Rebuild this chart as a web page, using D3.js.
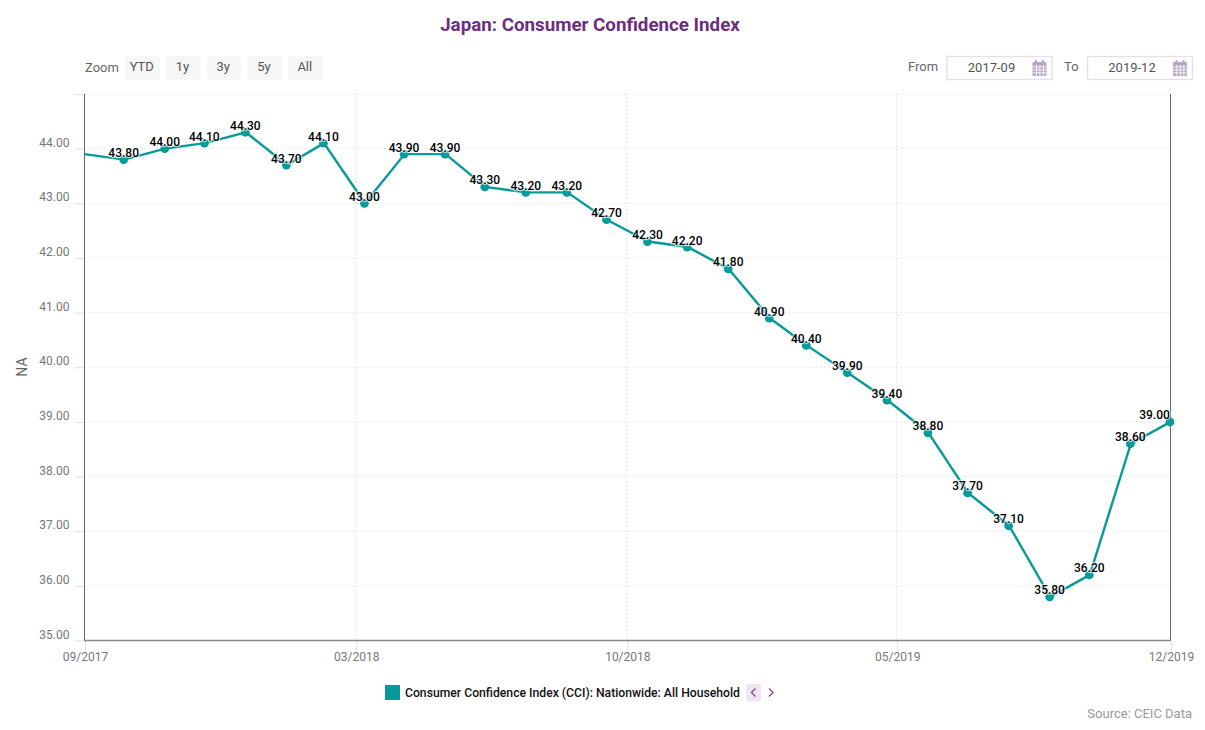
<!DOCTYPE html>
<html>
<head>
<meta charset="utf-8">
<script src="https://cdn.jsdelivr.net/npm/d3@7"></script>
<style>
  html, body { margin: 0; padding: 0; background: #fff; }
  svg { display: block; font-family: Roboto, sans-serif; }
</style>
</head>
<body>
<svg id="chart" width="1205" height="730"></svg>
<script>
const months = ["2017-09","2017-10","2017-11","2017-12","2018-01","2018-02","2018-03","2018-04","2018-05","2018-06",
  "2018-07","2018-08","2018-09","2018-10","2018-11","2018-12","2019-01","2019-02","2019-03","2019-04",
  "2019-05","2019-06","2019-07","2019-08","2019-09","2019-10","2019-11","2019-12"];
const values = [43.9,43.8,44.0,44.1,44.3,43.7,44.1,43.0,43.9,43.9,
  43.3,43.2,43.2,42.7,42.3,42.2,41.8,40.9,40.4,39.9,
  39.4,38.8,37.7,37.1,35.8,36.2,38.6,39.0];
const xTicks = ["2017-09-01","2018-03-25","2018-10-16","2019-05-08","2019-12-01"];
const yTicks = [35,36,37,38,39,40,41,42,43,44,45];
const zoomButtons = ["YTD","1y","3y","5y","All"];
const seriesName = "Consumer Confidence Index (CCI): Nationwide: All Household";

const teal = "#069a9a";
const parseMonth = d3.utcParse("%Y-%m");
const parseDay = d3.utcParse("%Y-%m-%d");
const data = months.map((m, i) => ({ date: parseMonth(m), value: values[i] }));

const svg = d3.select("#chart");
const x = d3.scaleUtc().domain([parseMonth(months[0]), parseMonth(months[months.length - 1])]).range([84.5, 1170.5]);
const y = d3.scaleLinear().domain([35, 45]).range([640.5, 94]);

svg.append("text").attr("x", 590).attr("y", 31).attr("text-anchor", "middle")
  .attr("font-size", 18.75).attr("font-weight", 700).attr("fill", "#6d2d80")
  .text("Japan: Consumer Confidence Index");

// range selector
svg.append("text").attr("x", 85).attr("y", 72).attr("font-size", 13).attr("fill", "#666").text("Zoom");
const btnX = d3.scalePoint().domain(zoomButtons).range([125, 288]);
const btn = svg.append("g").selectAll("g").data(zoomButtons).join("g")
  .attr("transform", d => `translate(${btnX(d)},56)`);
btn.append("rect").attr("width", 35).attr("height", 24).attr("rx", 2).attr("fill", "#f7f7f7");
btn.append("text").attr("x", 16.8).attr("y", 15).attr("text-anchor", "middle")
  .attr("font-size", 13).attr("fill", "#555").text(d => d);

// date inputs
function dateBox(label, labelX, boxX, val) {
  svg.append("text").attr("x", labelX).attr("y", 71).attr("font-size", 13).attr("fill", "#666").text(label);
  svg.append("rect").attr("x", boxX + 0.5).attr("y", 56.5).attr("width", 105).attr("height", 23)
    .attr("fill", "#fff").attr("stroke", "#e2e2e2").attr("stroke-width", 1.5);
  svg.append("text").attr("x", boxX + 45).attr("y", 72).attr("text-anchor", "middle")
    .attr("font-size", 13).attr("fill", "#555").text(val);
  // calendar icon
  const ic = svg.append("g").attr("transform", `translate(${boxX + 86},60)`).attr("fill", "#b9a6c6");
  ic.append("rect").attr("y", 2).attr("width", 14).attr("height", 14).attr("rx", 1);
  ic.append("rect").attr("x", 2.5).attr("width", 2).attr("height", 4);
  ic.append("rect").attr("x", 9.5).attr("width", 2).attr("height", 4);
  [6.5, 9.5, 12.5].forEach(v => ic.append("rect").attr("x", 0).attr("y", v).attr("width", 14).attr("height", 0.8).attr("fill", "#fff"));
  [3.5, 7, 10.5].forEach(v => ic.append("rect").attr("x", v).attr("y", 5).attr("width", 0.8).attr("height", 11).attr("fill", "#fff"));
}
dateBox("From", 908, 946.5, "2017-09");
dateBox("To", 1064, 1087, "2019-12");

// grid
svg.append("g").selectAll("line").data(yTicks.filter(d => d > 35)).join("line")
  .attr("x1", 84.5).attr("x2", 1170.5).attr("y1", d => y(d)).attr("y2", d => y(d))
  .attr("stroke", "#d4d4d4").attr("stroke-dasharray", "1,3");
svg.append("g").selectAll("line").data(xTicks.slice(1, -1)).join("line")
  .attr("x1", d => x(parseDay(d))).attr("x2", d => x(parseDay(d)))
  .attr("y1", 94).attr("y2", 640.5)
  .attr("stroke", "#d4d4d4").attr("stroke-dasharray", "1,3");

// axes
const yAxis = d3.axisLeft(y).tickValues(yTicks).tickSize(10).tickPadding(5)
  .tickFormat(d => d === 45 ? "" : d3.format(".2f")(d));
const yG = svg.append("g").attr("transform", "translate(84.5,0)").call(yAxis);
yG.select(".domain").remove();
yG.selectAll("line").attr("stroke", "#e0e0e0");
yG.selectAll("text").attr("font-family", "Roboto, sans-serif").attr("font-size", 12).attr("fill", "#777").attr("dy", "-0.2em");

const xAxis = d3.axisBottom(x).tickValues(xTicks.map(parseDay)).tickSize(10).tickPadding(2)
  .tickFormat(d3.utcFormat("%m/%Y"));
const xG = svg.append("g").attr("transform", "translate(0.5,640.5)").call(xAxis);
xG.select(".domain").remove();
xG.selectAll("line").attr("stroke", "#e0e0e0");
xG.selectAll("text").attr("font-family", "Roboto, sans-serif").attr("font-size", 12).attr("fill", "#777");

svg.append("line").attr("x1", 84.5).attr("x2", 84.5).attr("y1", 94).attr("y2", 640.5).attr("stroke", "#666");
svg.append("line").attr("x1", 1170.5).attr("x2", 1170.5).attr("y1", 94).attr("y2", 640.5).attr("stroke", "#666");
svg.append("line").attr("x1", 84).attr("x2", 1171).attr("y1", 640.5).attr("y2", 640.5).attr("stroke", "#888").attr("stroke-width", 1.5);

svg.append("text").attr("transform", "translate(27,367) rotate(-90)").attr("text-anchor", "middle")
  .attr("font-size", 14).attr("fill", "#666").text("NA");

// series
const line = d3.line().x(d => x(d.date)).y(d => y(d.value));
svg.append("path").datum(data).attr("d", line).attr("fill", "none").attr("stroke", teal).attr("stroke-width", 2.4);
const labelled = data.slice(1);
svg.append("g").selectAll("circle").data(labelled).join("circle")
  .attr("cx", d => x(d.date) - 0.5).attr("cy", d => y(d.value)).attr("r", 4.4).attr("fill", teal);
svg.append("g").selectAll("text").data(labelled).join("text")
  .attr("x", (d, i) => x(d.date) - (i === labelled.length - 1 ? 16 : 0.5))
  .attr("y", d => y(d.value) - 2.5)
  .attr("text-anchor", "middle").attr("font-size", 12).attr("font-weight", 500)
  .attr("fill", "#000").attr("stroke", "rgba(255,255,255,0.65)").attr("stroke-width", 2.4)
  .attr("paint-order", "stroke")
  .text(d => d3.format(".2f")(d.value));

// legend
svg.append("rect").attr("x", 385).attr("y", 685).attr("width", 15).attr("height", 15).attr("fill", teal);
svg.append("text").attr("x", 405).attr("y", 697).attr("font-size", 12.2).attr("font-weight", 500).attr("fill", "#111").text(seriesName);
svg.append("rect").attr("x", 746).attr("y", 684).attr("width", 15).attr("height", 17).attr("rx", 2).attr("fill", "#efe4f2");
svg.append("path").attr("d", "M755.5,688.5L751.5,692.5L755.5,696.5").attr("fill", "none").attr("stroke", "#7b4a90").attr("stroke-width", 1.3);
svg.append("path").attr("d", "M769,688.5L773,692.5L769,696.5").attr("fill", "none").attr("stroke", "#7b4a90").attr("stroke-width", 1.3);

svg.append("text").attr("x", 1192).attr("y", 718).attr("text-anchor", "end").attr("font-size", 13).attr("fill", "#999").text("Source: CEIC Data");
</script>
</body>
</html>
